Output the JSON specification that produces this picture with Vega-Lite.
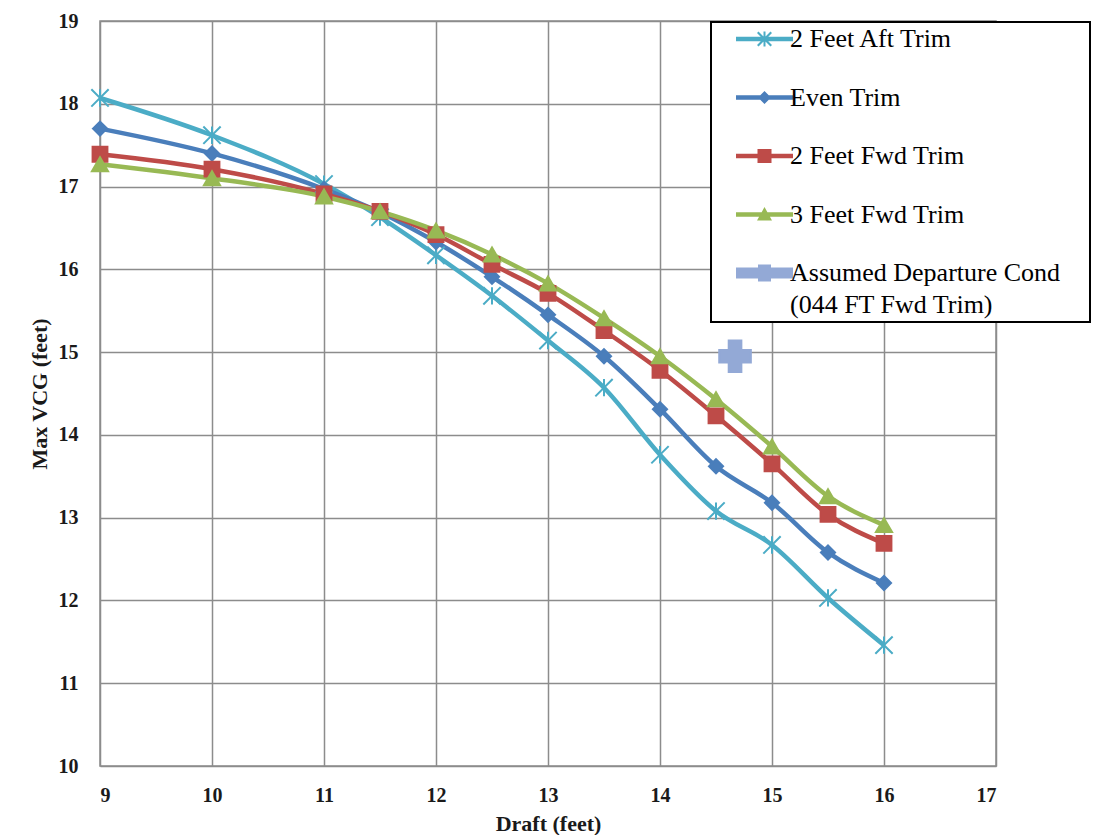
{
  "$schema": "https://vega.github.io/schema/vega-lite/v6.json",
  "autosize": {"type": "none"},
  "width": 896,
  "height": 745,
  "padding": {"left": 100, "top": 21, "right": 98, "bottom": 69},
  "background": "white",
  "config": {
    "view": {"stroke": "#8c8c8c", "strokeWidth": 1.5},
    "axis": {
      "grid": true, "gridColor": "#8c8c8c", "gridWidth": 1.5,
      "domain": false, "ticks": false,
      "labelFont": "Liberation Serif", "labelFontWeight": "bold", "labelFontSize": 20, "labelColor": "#1a1a1a",
      "titleFont": "Liberation Serif", "titleFontWeight": "bold", "titleFontSize": 22, "titleColor": "#1a1a1a"
    }
  },
  "data": {
    "values": [
      {"series": "2 Feet Aft Trim", "draft": 9, "vcg": 18.07},
      {"series": "2 Feet Aft Trim", "draft": 10, "vcg": 17.62},
      {"series": "2 Feet Aft Trim", "draft": 11, "vcg": 17.03},
      {"series": "2 Feet Aft Trim", "draft": 11.5, "vcg": 16.63},
      {"series": "2 Feet Aft Trim", "draft": 12, "vcg": 16.17},
      {"series": "2 Feet Aft Trim", "draft": 12.5, "vcg": 15.68},
      {"series": "2 Feet Aft Trim", "draft": 13, "vcg": 15.14},
      {"series": "2 Feet Aft Trim", "draft": 13.5, "vcg": 14.57},
      {"series": "2 Feet Aft Trim", "draft": 14, "vcg": 13.76},
      {"series": "2 Feet Aft Trim", "draft": 14.5, "vcg": 13.08},
      {"series": "2 Feet Aft Trim", "draft": 15, "vcg": 12.67},
      {"series": "2 Feet Aft Trim", "draft": 15.5, "vcg": 12.03},
      {"series": "2 Feet Aft Trim", "draft": 16, "vcg": 11.46},
      {"series": "Even Trim", "draft": 9, "vcg": 17.70},
      {"series": "Even Trim", "draft": 10, "vcg": 17.40},
      {"series": "Even Trim", "draft": 11, "vcg": 16.97},
      {"series": "Even Trim", "draft": 11.5, "vcg": 16.69},
      {"series": "Even Trim", "draft": 12, "vcg": 16.33},
      {"series": "Even Trim", "draft": 12.5, "vcg": 15.91},
      {"series": "Even Trim", "draft": 13, "vcg": 15.45},
      {"series": "Even Trim", "draft": 13.5, "vcg": 14.95},
      {"series": "Even Trim", "draft": 14, "vcg": 14.31},
      {"series": "Even Trim", "draft": 14.5, "vcg": 13.62},
      {"series": "Even Trim", "draft": 15, "vcg": 13.18},
      {"series": "Even Trim", "draft": 15.5, "vcg": 12.58},
      {"series": "Even Trim", "draft": 16, "vcg": 12.21},
      {"series": "2 Feet Fwd Trim", "draft": 9, "vcg": 17.39},
      {"series": "2 Feet Fwd Trim", "draft": 10, "vcg": 17.21},
      {"series": "2 Feet Fwd Trim", "draft": 11, "vcg": 16.91},
      {"series": "2 Feet Fwd Trim", "draft": 11.5, "vcg": 16.70},
      {"series": "2 Feet Fwd Trim", "draft": 12, "vcg": 16.42},
      {"series": "2 Feet Fwd Trim", "draft": 12.5, "vcg": 16.06},
      {"series": "2 Feet Fwd Trim", "draft": 13, "vcg": 15.71},
      {"series": "2 Feet Fwd Trim", "draft": 13.5, "vcg": 15.26},
      {"series": "2 Feet Fwd Trim", "draft": 14, "vcg": 14.78},
      {"series": "2 Feet Fwd Trim", "draft": 14.5, "vcg": 14.23},
      {"series": "2 Feet Fwd Trim", "draft": 15, "vcg": 13.65},
      {"series": "2 Feet Fwd Trim", "draft": 15.5, "vcg": 13.04},
      {"series": "2 Feet Fwd Trim", "draft": 16, "vcg": 12.69},
      {"series": "3 Feet Fwd Trim", "draft": 9, "vcg": 17.27},
      {"series": "3 Feet Fwd Trim", "draft": 10, "vcg": 17.10},
      {"series": "3 Feet Fwd Trim", "draft": 11, "vcg": 16.88},
      {"series": "3 Feet Fwd Trim", "draft": 11.5, "vcg": 16.70},
      {"series": "3 Feet Fwd Trim", "draft": 12, "vcg": 16.47},
      {"series": "3 Feet Fwd Trim", "draft": 12.5, "vcg": 16.18},
      {"series": "3 Feet Fwd Trim", "draft": 13, "vcg": 15.83},
      {"series": "3 Feet Fwd Trim", "draft": 13.5, "vcg": 15.41},
      {"series": "3 Feet Fwd Trim", "draft": 14, "vcg": 14.95},
      {"series": "3 Feet Fwd Trim", "draft": 14.5, "vcg": 14.43},
      {"series": "3 Feet Fwd Trim", "draft": 15, "vcg": 13.86},
      {"series": "3 Feet Fwd Trim", "draft": 15.5, "vcg": 13.26},
      {"series": "3 Feet Fwd Trim", "draft": 16, "vcg": 12.91},
      {"series": "Assumed Departure Cond", "draft": 14.67, "vcg": 14.95}
    ]
  },
  "encoding": {
    "x": {
      "field": "draft", "type": "quantitative",
      "scale": {"domain": [9, 17], "nice": false, "zero": false},
      "axis": {"values": [9, 10, 11, 12, 13, 14, 15, 16, 17], "title": "Draft (feet)", "labelPadding": 19, "titlePadding": 8}
    },
    "y": {
      "field": "vcg", "type": "quantitative",
      "scale": {"domain": [10, 19], "nice": false, "zero": false},
      "axis": {"values": [10, 11, 12, 13, 14, 15, 16, 17, 18, 19], "title": "Max VCG (feet)", "labelPadding": 22, "titlePadding": 7}
    }
  },
  "layer": [
    {
      "transform": [{"filter": "datum.series != 'Assumed Departure Cond'"}],
      "mark": {"type": "line", "strokeWidth": 4.5, "interpolate": "monotone"},
      "encoding": {
        "color": {
          "field": "series", "type": "nominal",
          "scale": {
            "domain": ["2 Feet Aft Trim", "Even Trim", "2 Feet Fwd Trim", "3 Feet Fwd Trim", "Assumed Departure Cond"],
            "range": ["#4BACC6", "#4A7EBB", "#BE4B48", "#98B954", "#93A9D6"]
          },
          "legend": {
            "orient": "none", "legendX": 611, "legendY": 1,
            "title": null, "padding": 4,
            "strokeColor": "#000000", "fillColor": "#ffffff",
            "symbolSize": 400, "symbolStrokeWidth": 0, "symbolOffset": 36.5,
            "labelOffset": 12.5, "labelFont": "Liberation Serif", "labelFontSize": 26, "labelColor": "#000000", "labelLimit": 0,
            "rowPadding": 32.5,
            "labelExpr": "datum.value == 'Assumed Departure Cond' ? ['Assumed Departure Cond\u00a0\u2800', '(044 FT Fwd Trim)'] : datum.label",
            "encode": {
              "legend": {"update": {"strokeWidth": {"value": 2}}},
              "symbols": {"update": {
                "shape": {"signal": "datum.value == '2 Feet Aft Trim' ? 'M-2.85,-0.22H2.85V0.22H-2.85Z M-0.6,-0.75L0.75,0.6L0.6,0.75L-0.75,-0.6Z M0.6,-0.75L0.75,-0.6L-0.6,0.75L-0.75,0.6Z M-0.1,-0.75H0.1V0.75H-0.1Z' : datum.value == 'Even Trim' ? 'M-2.85,-0.22H2.85V0.22H-2.85Z M0,-0.65L0.65,0L0,0.65L-0.65,0Z' : datum.value == '2 Feet Fwd Trim' ? 'M-2.85,-0.22H2.85V0.22H-2.85Z M-0.7,-0.7H0.7V0.7H-0.7Z' : datum.value == '3 Feet Fwd Trim' ? 'M-2.85,-0.22H2.85V0.22H-2.85Z M0,-0.75L0.75,0.6L-0.75,0.6Z' : 'M-2.85,-0.55H2.85V0.55H-2.85Z M-0.65,-0.85H0.65V0.85H-0.65Z'"},
                "fill": {"signal": "scale('color', datum.value)"},
                "strokeWidth": {"value": 0},
                "opacity": {"value": 1}
              }},
              "labels": {"update": {
                "lineHeight": {"value": 32}
              }}
            }
          }
        }
      }
    },
    {
      "transform": [{"fold": ["series"], "as": ["key", "trim"]}],
      "mark": {"type": "point", "filled": true, "opacity": 1, "strokeWidth": 2},
      "encoding": {
        "shape": {
          "field": "trim", "type": "nominal",
          "scale": {
            "domain": ["Assumed Departure Cond", "3 Feet Fwd Trim", "2 Feet Fwd Trim", "Even Trim", "2 Feet Aft Trim"],
            "range": ["cross", "triangle-up", "square", "diamond", "M-1,-1L1,1M1,-1L-1,1M0,-1L0,1"]
          },
          "legend": null
        },
        "size": {
          "field": "trim", "type": "nominal",
          "scale": {
            "type": "ordinal",
            "domain": ["Assumed Departure Cond", "3 Feet Fwd Trim", "2 Feet Fwd Trim", "Even Trim", "2 Feet Aft Trim"],
            "range": [1000, 260, 220, 200, 300]
          },
          "legend": null
        },
        "fill": {
          "field": "trim", "type": "nominal",
          "scale": {
            "domain": ["Assumed Departure Cond", "3 Feet Fwd Trim", "2 Feet Fwd Trim", "Even Trim", "2 Feet Aft Trim"],
            "range": ["#93A9D6", "#98B954", "#BE4B48", "#4A7EBB", "#4BACC6"]
          },
          "legend": null
        },
        "stroke": {
          "field": "trim", "type": "nominal",
          "scale": {
            "domain": ["Assumed Departure Cond", "3 Feet Fwd Trim", "2 Feet Fwd Trim", "Even Trim", "2 Feet Aft Trim"],
            "range": ["#93A9D6", "#98B954", "#BE4B48", "#4A7EBB", "#4BACC6"]
          },
          "legend": null
        }
      }
    }
  ]
}
